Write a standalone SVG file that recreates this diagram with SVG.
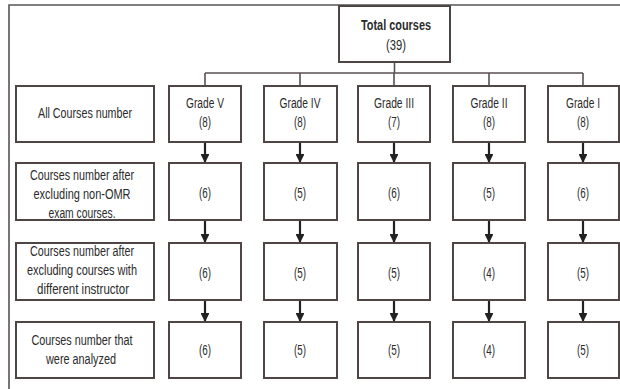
<svg xmlns="http://www.w3.org/2000/svg" width="620" height="389" viewBox="0 0 620 389">
<defs>
<style>
.box{fill:#fff;stroke:#4f4545;stroke-width:2}
.t{font-family:"Liberation Sans",Arial,sans-serif;font-size:14px;fill:#2b2b2b;text-anchor:middle}
.b{font-weight:bold}
.br{fill:none;stroke:#5a5050;stroke-width:1.6}
.ar{stroke:#222;stroke-width:2.2;fill:none}
</style>
<marker id="ah" viewBox="0 0 10 10" refX="9" refY="5" markerWidth="4" markerHeight="4" orient="auto" markerUnits="strokeWidth">
<path d="M0,0 L10,5 L0,10 Z" fill="#222"/>
</marker>
</defs>
<rect x="0" y="0" width="620" height="389" fill="#fff"/>
<g id="frame"><path d="M9,389 V5 H620" fill="none" stroke="#555" stroke-width="1.6"/></g>

<g id="connectors">
<path class="br" d="M394.5,62 V73 M205,73 H583 M205,73 V86 M300,73 V86 M394,73 V86 M489,73 V86 M583,73 V86"/>
<g class="ar" marker-end="url(#ah)">
<line x1="205" y1="142" x2="205" y2="162"/><line x1="300" y1="142" x2="300" y2="162"/><line x1="394" y1="142" x2="394" y2="162"/><line x1="489" y1="142" x2="489" y2="162"/><line x1="583" y1="142" x2="583" y2="162"/>
<line x1="205" y1="220" x2="205" y2="242"/><line x1="300" y1="220" x2="300" y2="242"/><line x1="394" y1="220" x2="394" y2="242"/><line x1="489" y1="220" x2="489" y2="242"/><line x1="583" y1="220" x2="583" y2="242"/>
<line x1="205" y1="300" x2="205" y2="321"/><line x1="300" y1="300" x2="300" y2="321"/><line x1="394" y1="300" x2="394" y2="321"/><line x1="489" y1="300" x2="489" y2="321"/><line x1="583" y1="300" x2="583" y2="321"/>
</g>
</g>

<g id="total"><rect class="box" x="339" y="6" width="111" height="56"/>
<text class="t b" x="396" y="30" textLength="70" lengthAdjust="spacingAndGlyphs">Total courses</text>
<text class="t" x="396" y="50" textLength="20" lengthAdjust="spacingAndGlyphs">(39)</text></g>

<g id="label1"><rect class="box" x="16" y="86" width="138" height="56"/>
<text class="t" x="85" y="118" textLength="94" lengthAdjust="spacingAndGlyphs">All Courses number</text></g>
<g id="label2"><rect class="box" x="16" y="163" width="138" height="57"/>
<text class="t" x="82" y="180" textLength="104" lengthAdjust="spacingAndGlyphs">Courses number after</text>
<text class="t" x="82" y="199" textLength="97" lengthAdjust="spacingAndGlyphs">excluding non-OMR</text>
<text class="t" x="82" y="218" textLength="67" lengthAdjust="spacingAndGlyphs">exam courses.</text></g>
<g id="label3"><rect class="box" x="16" y="243" width="138" height="57"/>
<text class="t" x="82" y="256" textLength="104" lengthAdjust="spacingAndGlyphs">Courses number after</text>
<text class="t" x="82" y="275" textLength="110" lengthAdjust="spacingAndGlyphs">excluding courses with</text>
<text class="t" x="83" y="294" textLength="92" lengthAdjust="spacingAndGlyphs">different instructor</text></g>
<g id="label4"><rect class="box" x="16" y="322" width="138" height="56"/>
<text class="t" x="82" y="345" textLength="101" lengthAdjust="spacingAndGlyphs">Courses number that</text>
<text class="t" x="81" y="364" textLength="70" lengthAdjust="spacingAndGlyphs">were analyzed</text></g>

<g id="g5r1"><rect class="box" x="169" y="86" width="72" height="56"/><text class="t" x="205" y="108" textLength="38" lengthAdjust="spacingAndGlyphs">Grade V</text><text class="t" x="205" y="127" textLength="12" lengthAdjust="spacingAndGlyphs">(8)</text></g>
<g id="g4r1"><rect class="box" x="264" y="86" width="73" height="56"/><text class="t" x="300" y="108" textLength="41" lengthAdjust="spacingAndGlyphs">Grade IV</text><text class="t" x="300" y="127" textLength="12" lengthAdjust="spacingAndGlyphs">(8)</text></g>
<g id="g3r1"><rect class="box" x="358" y="86" width="72" height="56"/><text class="t" x="394" y="108" textLength="40" lengthAdjust="spacingAndGlyphs">Grade III</text><text class="t" x="394" y="127" textLength="12" lengthAdjust="spacingAndGlyphs">(7)</text></g>
<g id="g2r1"><rect class="box" x="453" y="86" width="72" height="56"/><text class="t" x="489" y="108" textLength="37" lengthAdjust="spacingAndGlyphs">Grade II</text><text class="t" x="489" y="127" textLength="12" lengthAdjust="spacingAndGlyphs">(8)</text></g>
<g id="g1r1"><rect class="box" x="548" y="86" width="71" height="56"/><text class="t" x="583" y="108" textLength="34" lengthAdjust="spacingAndGlyphs">Grade I</text><text class="t" x="583" y="127" textLength="12" lengthAdjust="spacingAndGlyphs">(8)</text></g>

<g id="g5r2"><rect class="box" x="169" y="163" width="72" height="57"/><text class="t" x="205" y="198" textLength="12" lengthAdjust="spacingAndGlyphs">(6)</text></g>
<g id="g4r2"><rect class="box" x="264" y="163" width="73" height="57"/><text class="t" x="300" y="198" textLength="12" lengthAdjust="spacingAndGlyphs">(5)</text></g>
<g id="g3r2"><rect class="box" x="358" y="163" width="72" height="57"/><text class="t" x="394" y="198" textLength="12" lengthAdjust="spacingAndGlyphs">(6)</text></g>
<g id="g2r2"><rect class="box" x="453" y="163" width="72" height="57"/><text class="t" x="489" y="198" textLength="12" lengthAdjust="spacingAndGlyphs">(5)</text></g>
<g id="g1r2"><rect class="box" x="548" y="163" width="71" height="57"/><text class="t" x="583" y="198" textLength="12" lengthAdjust="spacingAndGlyphs">(6)</text></g>

<g id="g5r3"><rect class="box" x="169" y="243" width="72" height="57"/><text class="t" x="205" y="278" textLength="12" lengthAdjust="spacingAndGlyphs">(6)</text></g>
<g id="g4r3"><rect class="box" x="264" y="243" width="73" height="57"/><text class="t" x="300" y="278" textLength="12" lengthAdjust="spacingAndGlyphs">(5)</text></g>
<g id="g3r3"><rect class="box" x="358" y="243" width="72" height="57"/><text class="t" x="394" y="278" textLength="12" lengthAdjust="spacingAndGlyphs">(5)</text></g>
<g id="g2r3"><rect class="box" x="453" y="243" width="72" height="57"/><text class="t" x="489" y="278" textLength="12" lengthAdjust="spacingAndGlyphs">(4)</text></g>
<g id="g1r3"><rect class="box" x="548" y="243" width="71" height="57"/><text class="t" x="583" y="278" textLength="12" lengthAdjust="spacingAndGlyphs">(5)</text></g>

<g id="g5r4"><rect class="box" x="169" y="322" width="72" height="56"/><text class="t" x="205" y="355" textLength="12" lengthAdjust="spacingAndGlyphs">(6)</text></g>
<g id="g4r4"><rect class="box" x="264" y="322" width="73" height="56"/><text class="t" x="300" y="355" textLength="12" lengthAdjust="spacingAndGlyphs">(5)</text></g>
<g id="g3r4"><rect class="box" x="358" y="322" width="72" height="56"/><text class="t" x="394" y="355" textLength="12" lengthAdjust="spacingAndGlyphs">(5)</text></g>
<g id="g2r4"><rect class="box" x="453" y="322" width="72" height="56"/><text class="t" x="489" y="355" textLength="12" lengthAdjust="spacingAndGlyphs">(4)</text></g>
<g id="g1r4"><rect class="box" x="548" y="322" width="71" height="56"/><text class="t" x="583" y="355" textLength="12" lengthAdjust="spacingAndGlyphs">(5)</text></g>
</svg>
